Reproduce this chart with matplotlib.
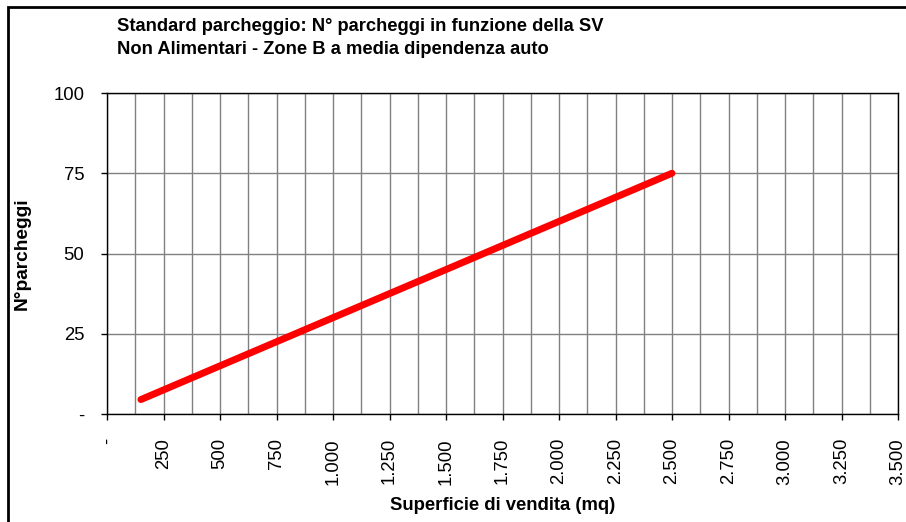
import matplotlib
matplotlib.use('Agg')
from matplotlib import pyplot as plt
from matplotlib.patches import Rectangle
from matplotlib.ticker import MultipleLocator, FuncFormatter

plt.rcParams['font.family'] = ['Liberation Sans', 'DejaVu Sans']

# Superficie di vendita (mq) vs N° parcheggi
sv = [150, 500, 1000, 1500, 2000, 2500]
parcheggi = [4.5, 15, 30, 45, 60, 75]

title_1 = 'Standard parcheggio: N° parcheggi in funzione della SV'
title_2 = 'Non Alimentari - Zone B a media dipendenza auto'

W, H = 906, 522
fig = plt.figure(figsize=(W / 100, H / 100), dpi=100)
ax = fig.add_axes([107 / W, 1 - 414 / H, (898 - 107) / W, (414 - 93) / H])

ax.plot(sv, parcheggi, color='#FF0000', lw=5, solid_capstyle='round', zorder=3)

ax.set_xlim(0, 3500)
ax.set_ylim(0, 100)
ax.xaxis.set_major_locator(MultipleLocator(250))
ax.xaxis.set_minor_locator(MultipleLocator(125))
ax.yaxis.set_major_locator(MultipleLocator(25))

def fmt_num(v, pos):
    if v == 0:
        return '-'
    return f'{v:,.0f}'.replace(',', '.')

ax.xaxis.set_major_formatter(FuncFormatter(fmt_num))
ax.yaxis.set_major_formatter(FuncFormatter(fmt_num))

ax.grid(True, which='both', axis='x', color='#808080', lw=1)
ax.grid(True, which='major', axis='y', color='#808080', lw=1)
ax.set_axisbelow(True)

ax.tick_params(axis='x', which='major', direction='out', length=4.3, width=1,
               labelsize=13.3, labelrotation=90, pad=13)
ax.tick_params(axis='x', which='minor', length=0)
ax.tick_params(axis='y', direction='out', length=4.3, width=1, labelsize=13.3, pad=12)
for lab in ax.get_xticklabels():
    lab.set_verticalalignment('top')

for sp in ax.spines.values():
    sp.set_color('black')
    sp.set_linewidth(1)

ax.set_xlabel('Superficie di vendita (mq)', fontsize=13.3, fontweight='bold')
ax.xaxis.set_label_coords(0.5, (414 - 505) / (414 - 93))
ax.xaxis.label.set_va('center')
ax.set_ylabel('N°parcheggi', fontsize=13.8, fontweight='bold')
ax.yaxis.set_label_coords((22 - 107) / (898 - 107), 0.5)
ax.yaxis.label.set_va('center')

fig.text(117 / W, 1 - 31 / H, title_1, fontsize=13.2, fontweight='bold', va='baseline', ha='left')
fig.text(117 / W, 1 - 54 / H, title_2, fontsize=13.2, fontweight='bold', va='baseline', ha='left')

# chart area border (cropped at right and bottom)
fig.patches.append(Rectangle((8 / W, -0.1), 1.2, 1 - 7 / H + 0.1, transform=fig.transFigure,
                             fill=False, edgecolor='black', lw=2))

fig.savefig('out.png', dpi=100)
